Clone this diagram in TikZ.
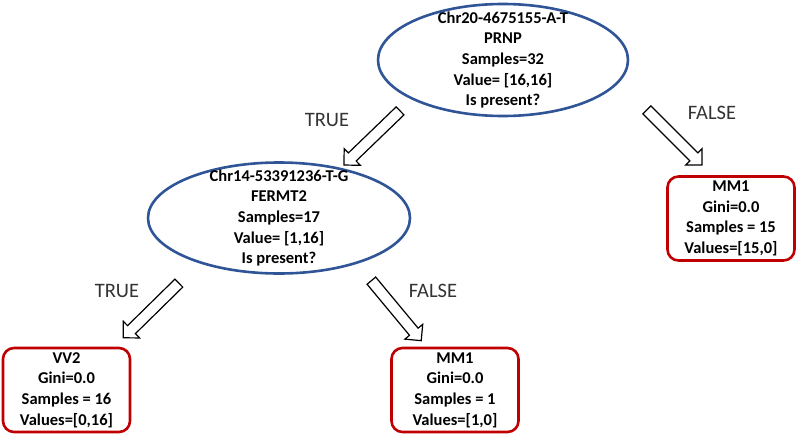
\documentclass[tikz,border=0pt]{standalone}
\usepackage{fontspec}
\setmainfont{Carlito}
\usetikzlibrary{
  shapes.geometric,
  shapes.arrows,
}
\definecolor{splitblue}{RGB}{47,85,151}
\definecolor{leafred}{RGB}{192,0,0}

\begin{document}
\begin{tikzpicture}[x=1pt,y=-1pt,
  split/.style={ellipse, draw=splitblue, line width=2.6pt, inner sep=0pt},
  splittext/.style={font=\bfseries\fontsize{16.5}{20.7}\selectfont, align=center},
  leaf/.style={rectangle, rounded corners=11pt, draw=leafred, line width=2.6pt,
    minimum width=127pt, minimum height=84pt, inner sep=0pt, align=center,
    font=\bfseries\fontsize{16.5}{20.7}\selectfont},
  choice/.style={font=\fontsize{20.5}{24}\selectfont, text=black!80},
  fat/.style={single arrow, draw, fill=white, line width=1.2pt, inner sep=5pt,
    single arrow head extend=6pt, single arrow tip angle=90,
    minimum height=78pt, sloped, allow upside down},
]
\useasboundingbox (0,0) rectangle (796,434);

\node[split, minimum width=250pt, minimum height=112pt,
  label={[splittext]center:{Chr20-4675155-A-T\\PRNP\\Samples=32\\Value= [16,16]\\Is present?}}]
  (prnp) at (503,60) {};
\node[split, minimum width=262pt, minimum height=111pt,
  label={[splittext]center:{Chr14-53391236-T-G\\FERMT2\\Samples=17\\Value= [1,16]\\Is present?}}]
  (fermt) at (279,218) {};

\node[leaf] (mmright) at (731,218.5) {MM1\\Gini=0.0\\Samples = 15\\Values=[15,0]};
\node[leaf] (vv) at (66.5,390) {VV2\\Gini=0.0\\Samples = 16\\Values=[0,16]};
\node[leaf] (mmleft) at (455,390) {MM1\\Gini=0.0\\Samples = 1\\Values=[1,0]};

\coordinate (t1) at (402,109);
\coordinate (h1) at (346,163);
\coordinate (t2) at (645,108);
\coordinate (h2) at (700,163);
\coordinate (t3) at (181,281);
\coordinate (h3) at (125,336);
\coordinate (t4) at (370,279);
\coordinate (h4) at (419,338);

\path (t1) -- (h1) node[fat, midway] {};
\path (t2) -- (h2) node[fat, midway] {};
\path (t3) -- (h3) node[fat, midway] {};
\path (t4) -- (h4) node[fat, midway] {};

\node[choice] (true1) at (327,120) {TRUE};
\node[choice] (false1) at (712,113) {FALSE};
\node[choice] (true2) at (117,291) {TRUE};
\node[choice] (false2) at (433,291) {FALSE};
\end{tikzpicture}
\end{document}
